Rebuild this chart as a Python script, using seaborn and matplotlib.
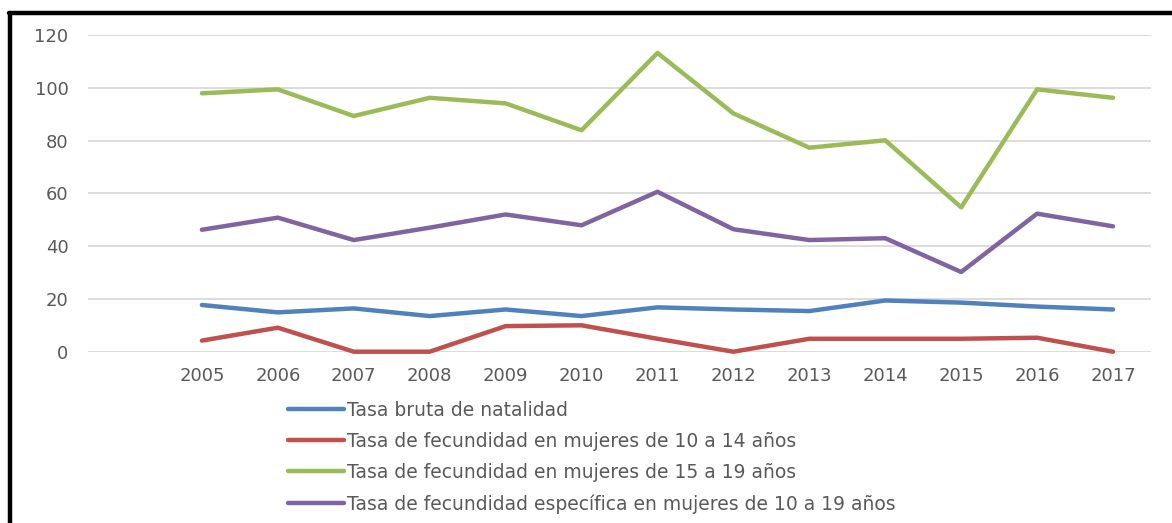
import matplotlib
matplotlib.use("Agg")
import matplotlib.pyplot as plt
from matplotlib.lines import Line2D
import numpy as np
import pandas as pd
import seaborn as sns

# Data
years = ["2005", "2006", "2007", "2008", "2009", "2010", "2011",
         "2012", "2013", "2014", "2015", "2016", "2017"]
series_names = [
    "Tasa bruta de natalidad",
    "Tasa de fecundidad en mujeres de 10 a 14 años",
    "Tasa de fecundidad en mujeres de 15 a 19 años",
    "Tasa de fecundidad específica en mujeres de 10 a 19 años",
]
tasa_bruta = [17.7, 14.9, 16.4, 13.5, 16.0, 13.5, 16.8, 16.0, 15.4, 19.4, 18.6, 17.1, 16.0]
fec_10_14 = [4.2, 9.1, 0.0, 0.0, 9.7, 10.0, 4.9, 0.0, 4.9, 4.9, 4.9, 5.3, 0.0]
fec_15_19 = [97.9, 99.4, 89.3, 96.2, 94.1, 83.9, 113.2, 90.3, 77.3, 80.1, 54.7, 99.4, 96.2]
fec_10_19 = [46.2, 50.8, 42.3, 47.0, 52.0, 47.9, 60.6, 46.4, 42.3, 43.0, 30.2, 52.3, 47.5]

colors = ["#4F81BD", "#C0504D", "#9BBB59", "#8064A2"]

# Long-form table; first category slot on the axis is left empty
pos = np.arange(1, len(years) + 1)
frames = []
for name, vals in zip(series_names, [tasa_bruta, fec_10_14, fec_15_19, fec_10_19]):
    frames.append(pd.DataFrame({"pos": pos, "valor": vals, "serie": name}))
df = pd.concat(frames, ignore_index=True)

sns.set_theme(style="white")
plt.rcParams["font.family"] = ["DejaVu Sans"]

W, H = 1172, 523
fig = plt.figure(figsize=(W / 100, H / 100), dpi=100)
fig.patch.set_facecolor("white")

left, right, top, bottom = 88, 1151, 35, 351.7
ax = fig.add_axes([left / W, 1 - bottom / H, (right - left) / W, (bottom - top) / H])

sns.lineplot(data=df, x="pos", y="valor", hue="serie", hue_order=series_names,
             palette=colors, linewidth=3.2, ax=ax, legend=False,
             solid_capstyle="round", clip_on=False)

ax.set_xlim(-0.5, len(years) + 0.5)
ax.set_ylim(0, 120)
ax.set_yticks(np.arange(0, 121, 20))
ax.set_xticks(pos)
ax.set_xticklabels(years)
ax.set_xlabel("")
ax.set_ylabel("")
ax.grid(axis="y", color="#D9D9D9", linewidth=1.3)
ax.set_axisbelow(True)
for s in ax.spines.values():
    s.set_visible(False)
ax.tick_params(axis="both", length=0, labelsize=13, labelcolor="#595959")
ax.tick_params(axis="y", pad=14)
ax.tick_params(axis="x", pad=11)

handles = [Line2D([0], [0], color=c, linewidth=3.2, solid_capstyle="round") for c in colors]
leg = fig.legend(handles, series_names, loc="upper left",
                 bbox_to_anchor=(288 / W, 1 - 401 / H), frameon=False,
                 fontsize=13.5, handlelength=3.0, handletextpad=0.15,
                 labelspacing=0.64, borderpad=0, borderaxespad=0)
for t in leg.get_texts():
    t.set_color("#595959")

# Black frame on the top and left edges
fig.add_artist(Line2D([10 / W, 10 / W], [0, 1 - 13 / H], color="black",
                      linewidth=3.2, transform=fig.transFigure))
fig.add_artist(Line2D([8.5 / W, 1], [1 - 13 / H, 1 - 13 / H], color="black",
                      linewidth=3.2, transform=fig.transFigure))

fig.savefig("out.png", dpi=100)
